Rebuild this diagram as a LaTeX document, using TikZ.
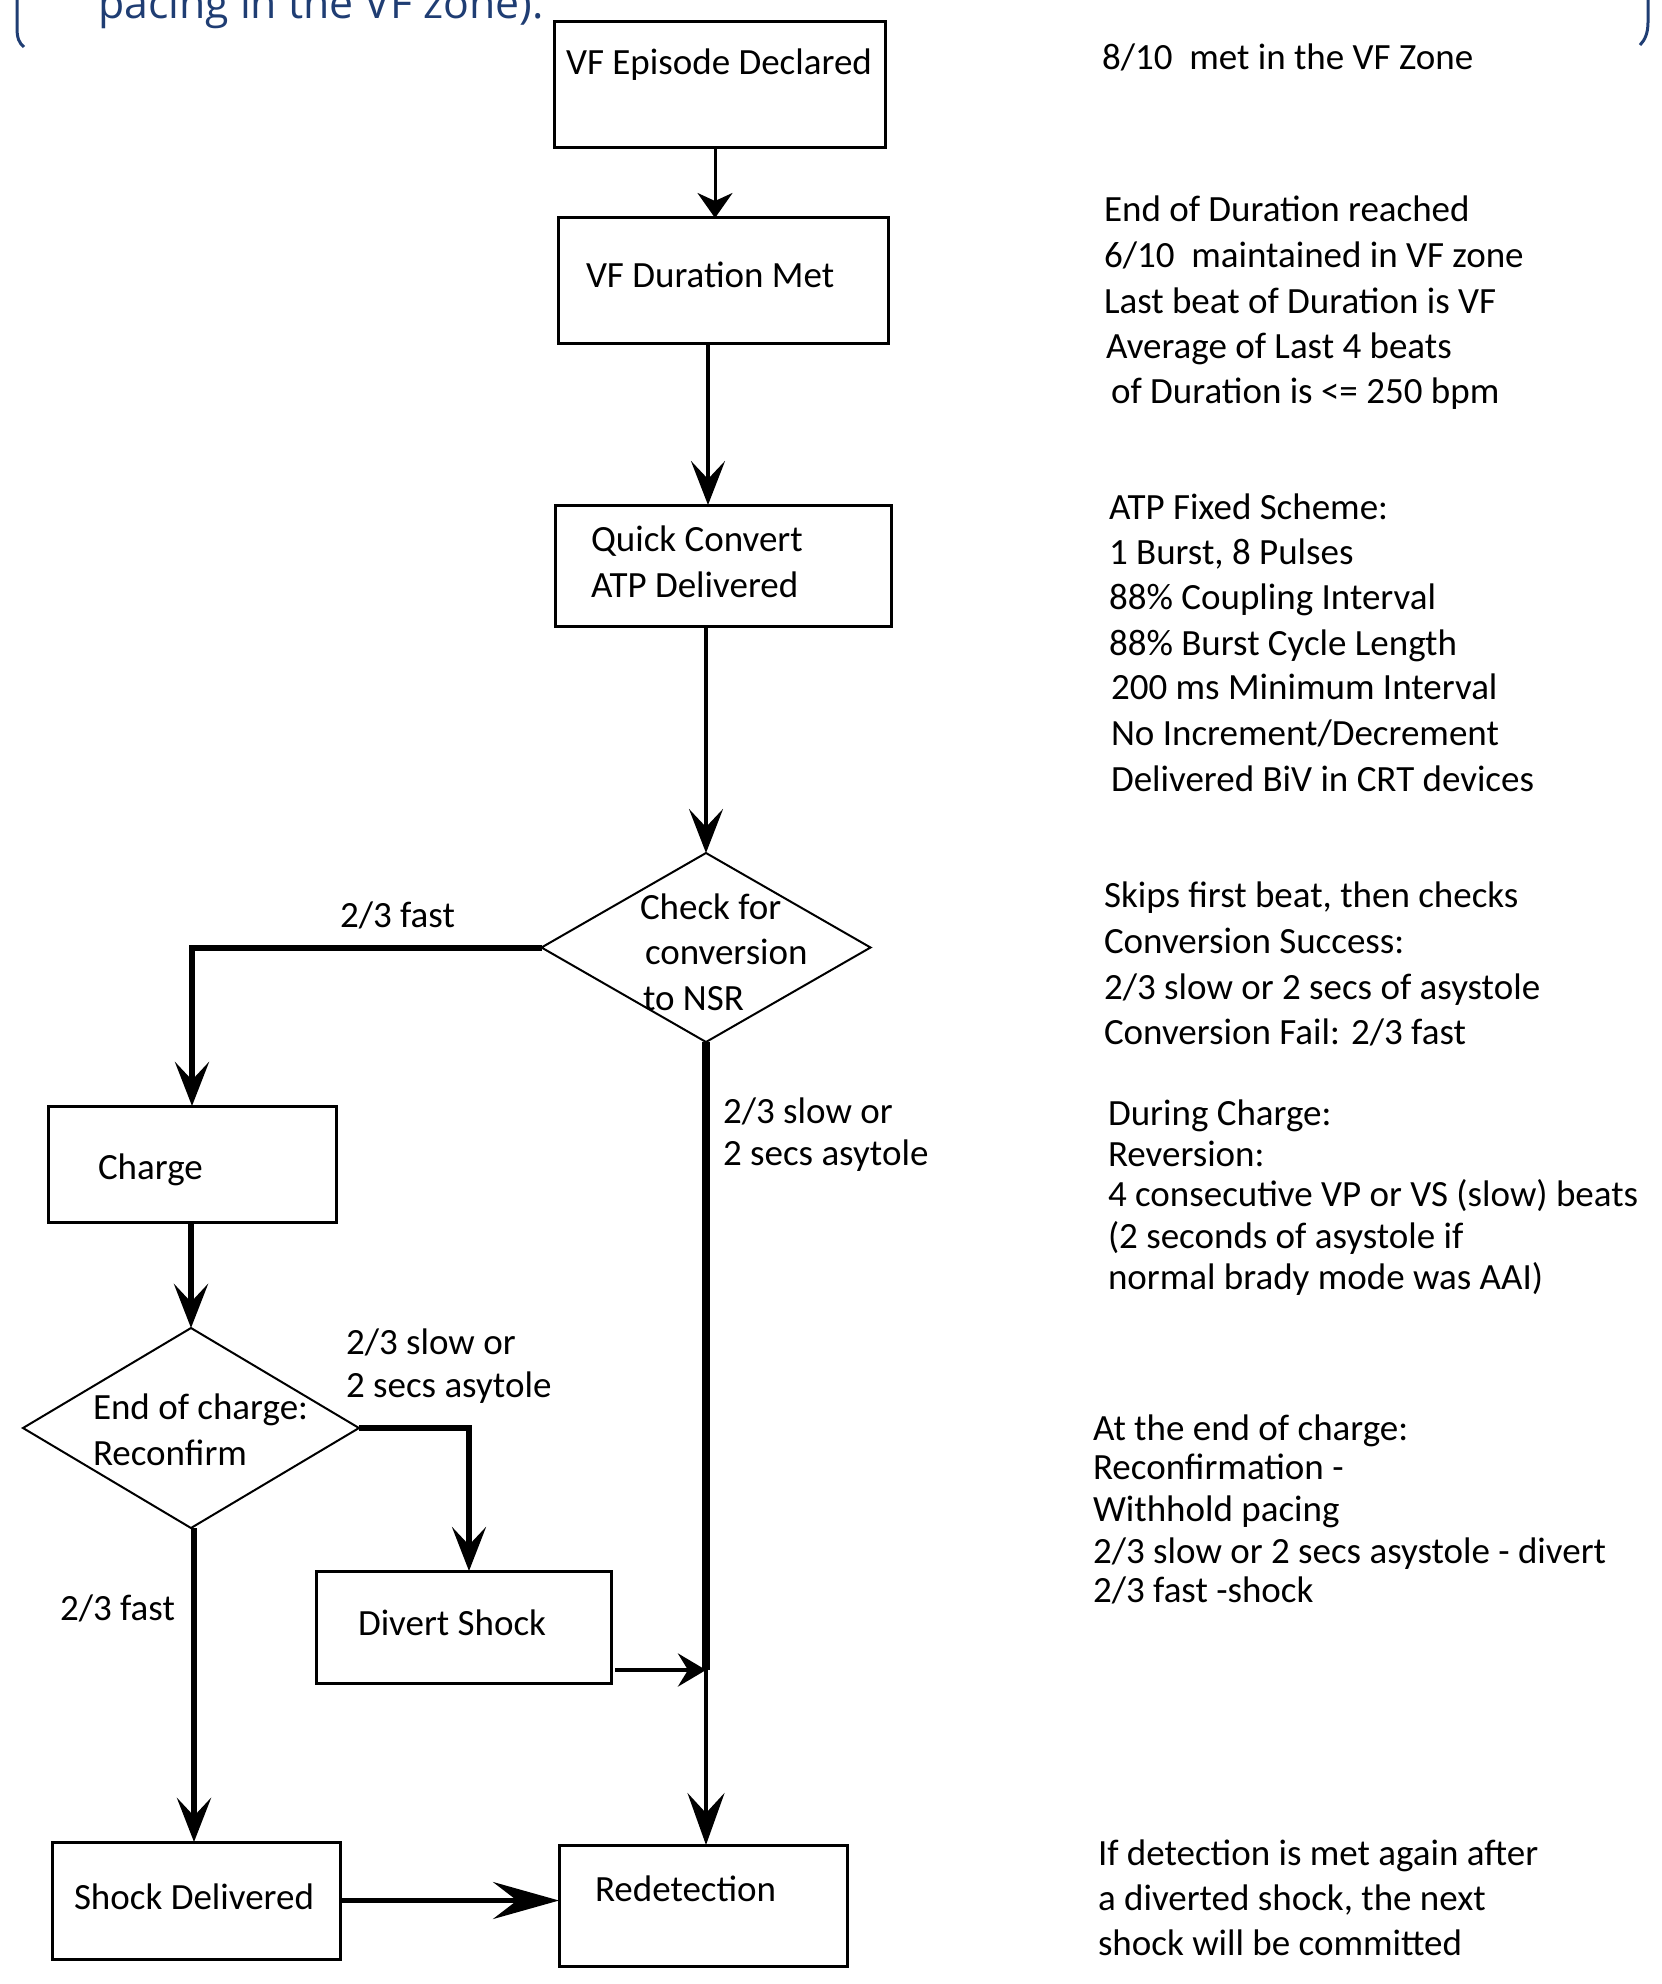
\documentclass[tikz,border=0pt]{standalone}
\usepackage{fontspec}
\setmainfont{Carlito}
\newfontfamily\hdrfont{Open Sans}
\usetikzlibrary{shapes.geometric,arrows.meta,calc}
\definecolor{hdrblue}{RGB}{31,61,115}
\begin{document}
\begin{tikzpicture}[x=0.5pt,y=-0.5pt,
  every node/.style={font=\fontsize{18.5}{22}\selectfont, inner sep=0pt, outer sep=0pt},
  boxnode/.style={draw, line width=1.5pt, rectangle, inner sep=0pt},
  dia/.style={draw, line width=1pt, diamond, inner sep=0pt},
  txt/.style={anchor=base west},
  headS/.style={-{Stealth[length=12.5pt,width=17.5pt,inset=4pt]}},
  headA/.style={-{Stealth[length=22pt,width=17pt,inset=9pt]}},
  headR/.style={-{Stealth[length=26pt,width=18.5pt,inset=10pt]}},
  headL/.style={-{Stealth[length=33pt,width=18.5pt,inset=12pt]}},
  headD/.style={-{Stealth[length=14pt,width=16.5pt,inset=5pt]}}
]
\useasboundingbox (0,0) rectangle (1661,1984);

% header fragment
\node[anchor=base west, font=\hdrfont\fontsize{21.4}{24}\selectfont, text=hdrblue] (hdr) at (98,19) {pacing in the VF zone).};
\draw[hdrblue, line width=1.5pt] (17,-5) -- (17,28) .. controls (17,38) and (19,43) .. (24,47);
\draw[hdrblue, line width=1.5pt] (1648,-5) -- (1648,22) .. controls (1648,33) and (1645,40) .. (1640,45);

% boxes
\node[boxnode, minimum width=165.5pt, minimum height=63pt] (b1) at (719.5,85) {};
\node[boxnode, minimum width=165pt, minimum height=63pt] (b2) at (723,281) {};
\node[boxnode, minimum width=168pt, minimum height=60.5pt] (b3) at (723,565.5) {};
\node[dia, minimum width=164.5pt, minimum height=94.5pt] (d1) at (706,947.5) {};
\node[boxnode, minimum width=144pt, minimum height=58pt] (charge) at (192,1164) {};
\node[dia, minimum width=168pt, minimum height=100pt] (d2) at (191,1428) {};
\node[boxnode, minimum width=147.5pt, minimum height=56pt] (divert) at (463.5,1627) {};
\node[boxnode, minimum width=144pt, minimum height=58.5pt] (shock) at (196,1900.5) {};
\node[boxnode, minimum width=144pt, minimum height=60.5pt] (redet) at (703,1905.5) {};

% box texts
\node[anchor=base] (t1) at (719,75) {VF Episode Declared};
\node[txt] (t2) at (586,288) {VF Duration Met};
\node[txt] (t3a) at (591,551) {Quick Convert};
\node[txt] (t3b) at (591,597) {ATP Delivered};
\node[txt] (t4a) at (640,919) {Check for};
\node[txt] (t4b) at (645,964) {conversion};
\node[txt] (t4c) at (643,1010) {to NSR};
\node[txt] (t5) at (98,1179) {Charge};
\node[txt] (t6a) at (93,1419) {End of charge:};
\node[txt] (t6b) at (93,1465) {Reconfirm};
\node[txt] (t7) at (358,1635) {Divert Shock};
\node[txt] (t8) at (74,1909) {Shock Delivered};
\node[txt] (t9) at (595,1901) {Redetection};

% connector labels
\node[txt] (l1) at (340,927) {2/3 fast};
\node[txt] (l2a) at (723,1123) {2/3 slow or};
\node[txt] (l2b) at (723,1165) {2 secs asytole};
\node[txt] (l3a) at (346,1354) {2/3 slow or};
\node[txt] (l3b) at (346,1397) {2 secs asytole};
\node[txt] (l4) at (60,1620) {2/3 fast};

% coordinates for connector columns
\coordinate (cA) at (715,0);
\coordinate (cB) at (708,0);
\coordinate (cC) at (706,0);
\coordinate (cD) at (469,0);
\coordinate (cE) at (194,0);
\coordinate (junc) at (706,1670);

% connectors
\draw[line width=1.5pt, headS] (b1.south -| cA) -- (b2.north -| cA);
\draw[line width=2pt, headA] (b2.south -| cB) -- (b3.north -| cB);
\draw[line width=2pt, headA] (b3.south -| cC) -- (d1.north);
\draw[line width=3pt, headA] (d1.west) -| (charge.north);
\draw[line width=4.2pt] (d1.south) -- (junc);
\draw[line width=2pt, headR] (junc) -- (redet.north -| junc);
\draw[line width=3.2pt, headA] (charge.south -| d2.north) -- (d2.north);
\draw[line width=2.6pt, headA] (d2.east) -| (divert.north -| cD);
\draw[line width=3.2pt, headA] (d2.south -| cE) -- (shock.north -| cE);
\draw[line width=2.4pt, headD] ($(divert.east |- junc)+(4,0)$) -- (junc);
\draw[line width=2.4pt, headL] (shock.east) -- (shock.east -| redet.west);

% right-hand notes
\node[txt] (n1) at (1102,70) {8/10\ \ met in the VF Zone};

\node[txt] (n2a) at (1104,222) {End of Duration reached};
\node[txt] (n2b) at (1104,268) {6/10\ \ maintained in VF zone};
\node[txt] (n2c) at (1104,314) {Last beat of Duration is VF};
\node[txt] (n2d) at (1106,359) {Average of Last 4 beats};
\node[txt] (n2e) at (1111,404) {of Duration is <= 250 bpm};

\node[txt] (n3a) at (1109,519) {ATP Fixed Scheme:};
\node[txt] (n3b) at (1109,564) {1 Burst, 8 Pulses};
\node[txt] (n3c) at (1109,609) {88\% Coupling Interval};
\node[txt] (n3d) at (1109,655) {88\% Burst Cycle Length};
\node[txt] (n3e) at (1111,699) {200 ms Minimum Interval};
\node[txt] (n3f) at (1111,745) {No Increment/Decrement};
\node[txt] (n3g) at (1111,791) {Delivered BiV in CRT devices};

\node[txt] (n4a) at (1104,907) {Skips first beat, then checks};
\node[txt] (n4b) at (1104,953) {Conversion Success:};
\node[txt] (n4c) at (1104,999) {2/3 slow or 2 secs of asystole};
\node[txt] (n4d) at (1104,1044) {Conversion Fail: 2/3 fast};

\node[txt] (n5a) at (1108,1125) {During Charge:};
\node[txt] (n5b) at (1108,1166) {Reversion:};
\node[txt] (n5c) at (1108,1206) {4 consecutive VP or VS (slow) beats};
\node[txt] (n5d) at (1108,1248) {(2 seconds of asystole if};
\node[txt] (n5e) at (1108,1289) {normal brady mode was AAI)};

\node[txt] (n6a) at (1093,1440) {At the end of charge:};
\node[txt] (n6b) at (1093,1479) {Reconfirmation -};
\node[txt] (n6c) at (1093,1521) {Withhold pacing};
\node[txt] (n6d) at (1093,1563) {2/3 slow or 2 secs asystole - divert};
\node[txt] (n6e) at (1093,1602) {2/3 fast -shock};

\node[txt] (n7a) at (1098,1865) {If detection is met again after};
\node[txt] (n7b) at (1098,1910) {a diverted shock, the next};
\node[txt] (n7c) at (1098,1955) {shock will be committed};
\end{tikzpicture}
\end{document}
